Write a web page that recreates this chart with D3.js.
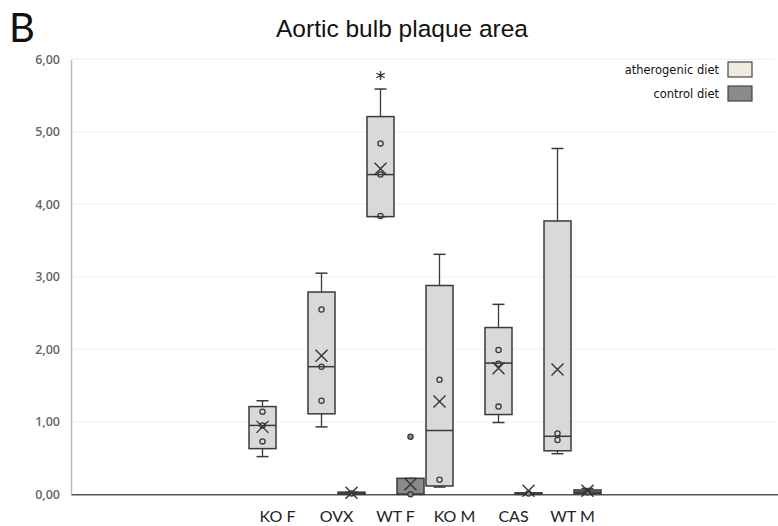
<!DOCTYPE html>
<html><head><meta charset="utf-8">
<script src="https://cdn.jsdelivr.net/npm/d3@7"></script>
<style>body{margin:0;background:#fff}svg{display:block}</style>
</head><body>
<svg id="c" width="778" height="526"></svg>
<script>
const categories = ["KO F","OVX","WT F","KO M","CAS","WT M"];
const yTicks = [0,1,2,3,4,5,6];
// atherogenic diet
const athMin    = [0.52, 0.93, 3.83, 0.10, 0.99, 0.56];
const athQ1     = [0.63, 1.11, 3.83, 0.115, 1.10, 0.60];
const athMedian = [0.95, 1.76, 4.41, 0.88, 1.81, 0.80];
const athQ3     = [1.21, 2.79, 5.21, 2.88, 2.30, 3.77];
const athMax    = [1.29, 3.05, 5.59, 3.31, 2.62, 4.77];
const athMean   = [0.93, 1.91, 4.49, 1.28, 1.74, 1.72];
const athPoints = [[1.14, 0.95, 0.73],[2.55, 1.76, 1.29],[4.84, 4.41, 3.84],[1.58, 0.20],[1.99, 1.80, 1.21],[0.84, 0.75]];
// control diet
const ctlMin    = [null, 0, 0, null, 0, 0];
const ctlQ1     = [null, 0, 0, null, 0, 0.01];
const ctlMedian = [null, 0.01, 0, null, 0.01, 0.03];
const ctlQ3     = [null, 0.03, 0.22, null, 0.02, 0.06];
const ctlMax    = [null, 0.03, 0.22, null, 0.02, 0.08];
const ctlMean   = [null, 0.02, 0.14, null, 0.05, 0.05];
const ctlPoints = [[],[0.01],[0.795, 0.0],[],[0.01],[0.03]];
const significance = ["", "", "*", "", "", ""];
const seriesNames = ["atherogenic diet","control diet"];

const svg = d3.select("#c");
const mLeft = 71, mRight = 779, mTop = 59.3, mBottom = 494.3;
const slots = d3.range(12);
const x = d3.scaleBand().domain(slots).range([mLeft, mRight]);
const slotOf = i => i + 3;
const y = d3.scaleLinear().domain([0, 6]).range([mBottom, mTop]);

const fmt = v => d3.format(".2f")(v).replace(".", ",");

// gridlines
svg.append("g").selectAll("line").data(yTicks.filter(t => t > 0)).join("line")
  .attr("x1", mLeft).attr("x2", 775).attr("y1", d => y(d)).attr("y2", d => y(d))
  .attr("stroke", "#efefef").attr("stroke-width", 1);

// y axis
const yAxis = svg.append("g").attr("transform", `translate(${mLeft},0)`)
  .call(d3.axisLeft(y).tickValues(yTicks).tickFormat(fmt).tickSize(0).tickPadding(11));
yAxis.select(".domain").attr("stroke", "#bdbdbd").attr("stroke-width", 1.5);
yAxis.selectAll("text").attr("font-family", "Open Sans, sans-serif").attr("font-size", 12.5)
  .attr("fill", "#666").attr("font-weight", 600);

// x axis
const xAxis = svg.append("g").attr("transform", `translate(0,${mBottom})`)
  .call(d3.axisBottom(x).tickValues(categories.map((c, i) => slotOf(i)))
    .tickFormat(s => categories[s - 3]).tickSize(0).tickPadding(16));
xAxis.select(".domain").attr("stroke", "#555").attr("stroke-width", 1.5);
xAxis.selectAll("text").attr("font-family", "Lato, sans-serif").attr("font-size", 16).attr("fill", "#222");

const boxW = 27, off = 15;
const stroke = "#3a3a3a";
const series = [
  {mn: athMin, q1: athQ1, md: athMedian, q3: athQ3, mx: athMax, mean: athMean, pts: athPoints, fill: "#d9d9d9", ptFill: "none", dx: -off},
  {mn: ctlMin, q1: ctlQ1, md: ctlMedian, q3: ctlQ3, mx: ctlMax, mean: ctlMean, pts: ctlPoints, fill: "#8a8a8a", ptFill: "#8a8a8a", dx: off}
];

series.forEach(s => {
  const g = svg.append("g");
  categories.forEach((c, i) => {
    if (s.q1[i] === null) return;
    const cx = x(slotOf(i)) + x.bandwidth() / 2 + s.dx;
    const x0 = cx - boxW / 2;
    g.append("line").attr("x1", cx).attr("x2", cx).attr("y1", y(s.q3[i])).attr("y2", y(s.mx[i])).attr("stroke", stroke).attr("stroke-width", 1.3);
    g.append("line").attr("x1", cx).attr("x2", cx).attr("y1", y(s.q1[i])).attr("y2", y(s.mn[i])).attr("stroke", stroke).attr("stroke-width", 1.3);
    [s.mx[i], s.mn[i]].forEach(v => g.append("line").attr("x1", cx - 6).attr("x2", cx + 6)
      .attr("y1", y(v)).attr("y2", y(v)).attr("stroke", stroke).attr("stroke-width", 1.5));
    g.append("rect").attr("x", x0).attr("width", boxW).attr("y", y(s.q3[i]))
      .attr("height", Math.max(y(s.q1[i]) - y(s.q3[i]), 1)).attr("fill", s.fill)
      .attr("stroke", stroke).attr("stroke-width", 1.5);
    g.append("line").attr("x1", x0).attr("x2", x0 + boxW).attr("y1", y(s.md[i])).attr("y2", y(s.md[i]))
      .attr("stroke", stroke).attr("stroke-width", 1.5);
    s.pts[i].forEach(v => g.append("circle").attr("cx", cx).attr("cy", y(v)).attr("r", 2.6)
      .attr("fill", s.ptFill).attr("stroke", stroke).attr("stroke-width", 1.3));
    const my = y(s.mean[i]);
    g.append("path").attr("d", `M${cx-6},${my-6}L${cx+6},${my+6}M${cx-6},${my+6}L${cx+6},${my-6}`)
      .attr("stroke", "#333").attr("stroke-width", 1.4).attr("fill", "none");
    if (significance[i] && s.dx < 0) {
      g.append("text").attr("x", cx).attr("y", y(s.mx[i]) - 4).attr("text-anchor", "middle")
        .attr("font-family", "DejaVu Sans, sans-serif").attr("font-size", 20).attr("fill", "#222")
        .text(significance[i]);
    }
  });
});

svg.append("text").attr("x", 402).attr("y", 37).attr("text-anchor", "middle")
  .attr("font-family", "Liberation Sans, Arial, sans-serif").attr("font-size", 24.5).attr("fill", "#111").text("Aortic bulb plaque area");
svg.append("text").attr("x", 9).attr("y", 42).attr("font-family", "Lato, sans-serif")
  .attr("font-size", 40).attr("fill", "#111").text("B");

const legFills = ["#eeebe0", "#8a8a8a"];
const leg = svg.append("g");
seriesNames.forEach((n, i) => {
  const ly = 62 + i * 24;
  leg.append("rect").attr("x", 728).attr("y", ly).attr("width", 24).attr("height", 15)
    .attr("fill", legFills[i]).attr("stroke", "#444").attr("stroke-width", 1.2);
  leg.append("text").attr("x", 719).attr("y", ly + 11.5).attr("text-anchor", "end")
    .attr("font-family", "DejaVu Sans, sans-serif").attr("font-size", 11.5).attr("fill", "#111").text(n);
});
</script>
</body></html>
